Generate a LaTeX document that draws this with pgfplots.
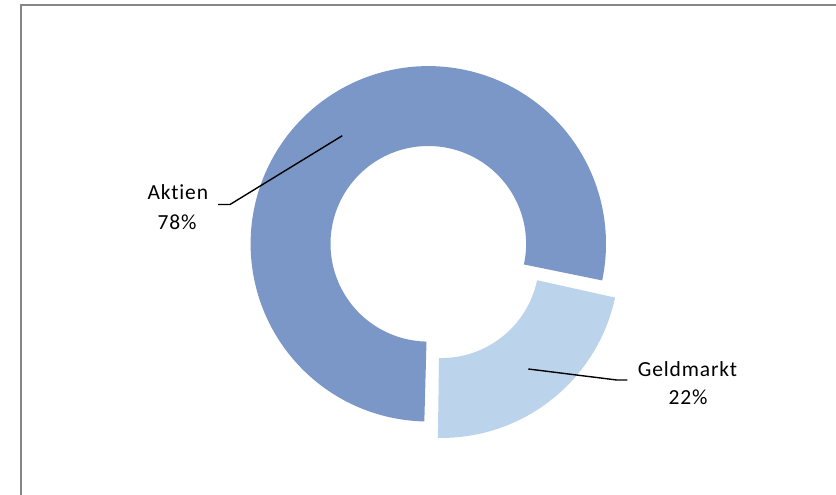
\documentclass[border=0pt]{standalone}
\usepackage{pgfplots}
\pgfplotsset{compat=1.18}
\usepackage{fontspec}
\setmainfont[LetterSpace=4, Ligatures={NoCommon}]{Carlito}
\definecolor{aktien}{RGB}{123,151,199}
\definecolor{geld}{RGB}{187,212,235}
\definecolor{frame}{RGB}{134,134,134}
% data (percent)
\def\valA{78}
\def\valB{22}
\pgfmathsetmacro{\startang}{-91.2}
\pgfmathsetmacro{\angA}{\valA*3.6}
\pgfmathsetmacro{\angB}{\valB*3.6}
\pgfmathsetmacro{\aFrom}{\startang+360-\angA}
\pgfmathsetmacro{\aTo}{\startang+360}
\pgfmathsetmacro{\bFrom}{\startang}
\pgfmathsetmacro{\bTo}{\startang+\angB}
\pgfmathsetmacro{\bMid}{(\bFrom+\bTo)/2}
\begin{document}
\begin{tikzpicture}
\begin{axis}[
  x=1pt, y=1pt,
  xmin=0, xmax=836, ymin=0, ymax=495,
  hide axis, clip=false,
  scale only axis,
]
\fill[white] (axis cs:0,0) rectangle (axis cs:836,495);
\coordinate (SW) at (axis cs:0,0);
\coordinate (NE) at (axis cs:836,495);
% frame
\draw[frame, line width=2pt] (axis cs:20.5,-10) -- (axis cs:20.5,489.5) -- (axis cs:850,489.5);
% Aktien
\addplot[draw=aktien, line width=79.9pt, domain=\aFrom:\aTo, samples=361, line join=round]
  ({428.3+137.75*cos(x)}, {251.2+137.75*sin(x)});
% Geldmarkt (exploded by 21)
\addplot[draw=geld, line width=79.9pt, domain=\bFrom:\bTo, samples=121, line join=round]
  ({428.3+21*cos(\bMid)+137.75*cos(x)}, {251.2+21*sin(\bMid)+137.75*sin(x)});
% leader lines
\addplot[black, line width=1.4pt] coordinates {(218,290.5) (230,290.5) (342.3,359.3)};
\addplot[black, line width=1.4pt] coordinates {(528.3,126) (616.7,115) (627.3,115)};
% labels
\node[anchor=base, inner sep=0pt, font=\fontsize{21.5}{29}\selectfont] at (axis cs:177.8,295) {Aktien};
\node[anchor=base, inner sep=0pt, font=\fontsize{21.5}{29}\selectfont] at (axis cs:177,265.7) {78\%};
\node[anchor=base, inner sep=0pt, font=\fontsize{21.5}{29}\selectfont] at (axis cs:687.5,118.3) {Geldmarkt};
\node[anchor=base, inner sep=0pt, font=\fontsize{21.5}{29}\selectfont] at (axis cs:688,90) {22\%};
\end{axis}
\pgfresetboundingbox
\path[use as bounding box] (SW) rectangle (NE);
\end{tikzpicture}
\end{document}
